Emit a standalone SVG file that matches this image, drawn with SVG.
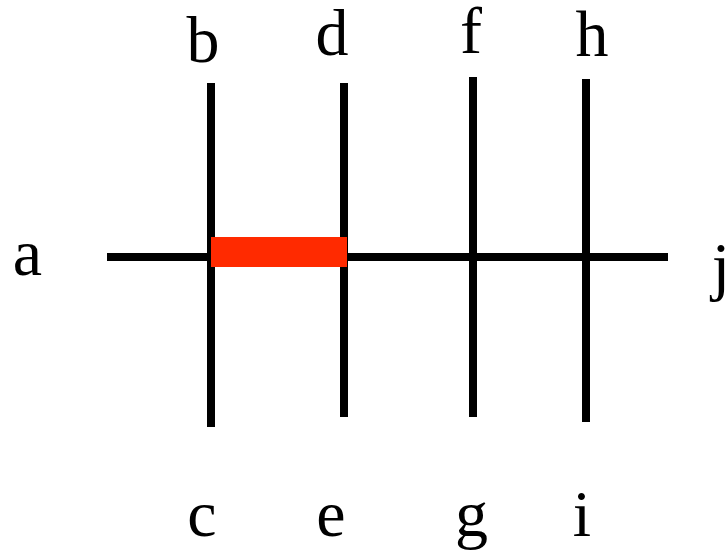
<svg xmlns="http://www.w3.org/2000/svg" width="728" height="550" viewBox="0 0 728 550">
  <style>
    .lbl { font-family: "Liberation Serif", "Times New Roman", serif; font-size: 66px; fill: #000; text-anchor: middle; }
    .ln { stroke: #000; stroke-width: 8; fill: none; }
  </style>
  <rect width="728" height="550" fill="#fff"/>
  <g id="connectors">
    <line class="ln" x1="107" y1="257" x2="668" y2="257"/>
    <line class="ln" x1="211" y1="83" x2="211" y2="427"/>
    <line class="ln" x1="344" y1="83" x2="344" y2="417"/>
    <line class="ln" x1="473" y1="77" x2="473" y2="417"/>
    <line class="ln" x1="586" y1="79" x2="586" y2="422"/>
  </g>
  <g id="highlight">
    <rect x="211" y="237" width="136" height="30" fill="#ff2a00"/>
  </g>
  <g id="a"><text class="lbl" x="27.5" y="275">a</text></g>
  <g id="b"><text class="lbl" x="203" y="62">b</text></g>
  <g id="c"><text class="lbl" x="202" y="536">c</text></g>
  <g id="d"><text class="lbl" x="332" y="55">d</text></g>
  <g id="e"><text class="lbl" x="331" y="536">e</text></g>
  <g id="f"><text class="lbl" x="471" y="53">f</text></g>
  <g id="g"><text class="lbl" x="471.5" y="536">g</text></g>
  <g id="h"><text class="lbl" x="592" y="56">h</text></g>
  <g id="i"><text class="lbl" x="582" y="536">i</text></g>
  <g id="j"><text class="lbl" x="721" y="288">j</text></g>
</svg>
